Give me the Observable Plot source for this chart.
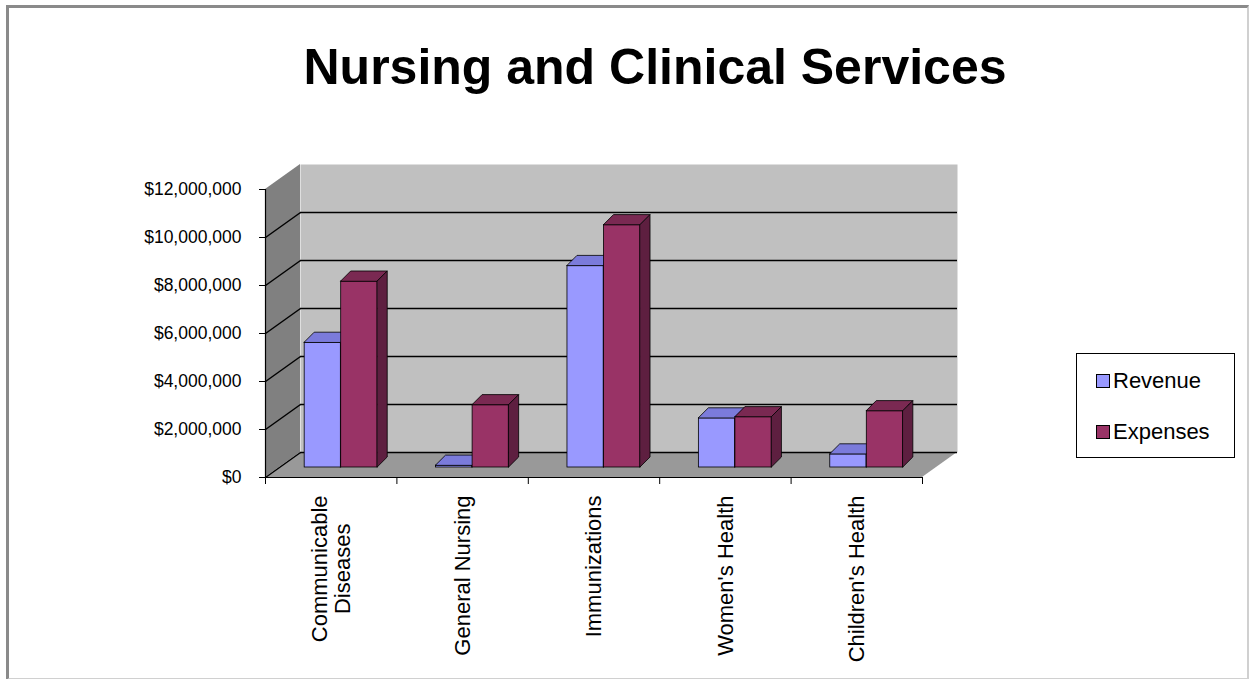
<!DOCTYPE html>
<html>
<head>
<meta charset="utf-8">
<script src="https://cdn.jsdelivr.net/npm/d3@7"></script>
<script src="https://cdn.jsdelivr.net/npm/@observablehq/plot@0.6"></script>
<style>
  html, body { margin: 0; padding: 0; background: #fff; }
  #wrap { position: relative; width: 1249px; height: 679px; overflow: hidden; font-family: "Liberation Sans", Arial, sans-serif; }
  #chart { position: absolute; left: 0; top: 0; }
  #frame { position: absolute; left: 6px; top: 5px; width: 1238px; height: 670px;
           border-top: 3px solid #8a8a8a; border-left: 3px solid #8a8a8a;
           border-right: 2px solid #d0d0d0; border-bottom: 2px solid #d0d0d0; pointer-events: none; }
  #title { position: absolute; left: 0; width: 1310px; top: 42px; text-align: center;
           font-size: 50px; line-height: 50px; font-weight: bold; color: #000; }
  #legend { position: absolute; left: 1076px; top: 353px; width: 157px; height: 103px;
            border: 1px solid #000; background: #fff; font-size: 22px; color: #000; }
  .item { position: absolute; left: 19px; display: flex; align-items: center; }
  .sw { width: 12px; height: 12px; border: 1px solid #000; margin-right: 3px; }
</style>
</head>
<body>
<div id="wrap">
  <div id="chart"></div>
  <div id="title">Nursing and Clinical Services</div>
  <div id="legend">
    <div class="item" style="top:14px"><div class="sw" id="sw0"></div><span id="lg0"></span></div>
    <div class="item" style="top:65px"><div class="sw" id="sw1"></div><span id="lg1"></span></div>
  </div>
  <div id="frame"></div>
</div>
<script>
// ---- data ----
const categories = ["Communicable\nDiseases", "General Nursing", "Immunizations", "Women's Health", "Children's Health"];
const seriesNames = ["Revenue", "Expenses"];
const revenue  = [5200000,  80000, 8400000, 2050000,  550000];
const expenses = [7750000, 2600000, 10100000, 2100000, 2350000];
const yTicks = [0, 2000000, 4000000, 6000000, 8000000, 10000000, 12000000];

// ---- styling ----
const colors = {
  Revenue:  {front: "#9999ff", top: "#7b7bdb", side: "#4b4bab"},
  Expenses: {front: "#993366", top: "#7a2952", side: "#5e1f40"}
};

const W = 1249, H = 679;
const ml = 265, mr = 327, mt = 189, mb = 202;
const ymax = 12000000;
const kx = (W - ml - mr) / categories.length;     // px per category unit
const ky = (H - mt - mb) / ymax;                  // px per dollar
const wallDx = 35, wallDy = 25;                   // wall depth in px
const barDx = 10, barDy = 10;                     // bar depth in px
const barOff = 10;                                // bar position inside depth
const wdx = wallDx / kx, wdy = wallDy / ky;
const bdx = barDx / kx, bdy = barDy / ky;
const bw = 0.278;
const labelFont = 22;

const bars = [];
categories.forEach((c, i) => {
  bars.push({id: "R" + i, s: "Revenue", x1: i + 0.5 - bw, x2: i + 0.5, v: revenue[i]});
  bars.push({id: "E" + i, s: "Expenses", x1: i + 0.5, x2: i + 0.5 + bw, v: expenses[i]});
});
const tops = bars.flatMap(b => [
  {id: b.id, s: b.s, y: b.v, x1: b.x1, x2: b.x2},
  {id: b.id, s: b.s, y: b.v + bdy, x1: b.x1 + bdx, x2: b.x2 + bdx}
]);
const sides = bars.flatMap(b => [
  {id: b.id, s: b.s, x: b.x2, y1: 0, y2: b.v},
  {id: b.id, s: b.s, x: b.x2 + bdx, y1: bdy, y2: b.v + bdy}
]);
const n = categories.length;
const sideWall = [{x: 0, y1: 0, y2: ymax}, {x: wdx, y1: wdy, y2: ymax + wdy}];
const floor = [{y: 0, x1: 0, x2: n}, {y: wdy, x1: wdx, x2: n + wdx}];
const gridVals = yTicks.filter(v => v < ymax);

function barMarks(s) {
  const st = {stroke: "#000", strokeWidth: 0.8, dx: barOff, dy: -barOff};
  return [
    Plot.rect(bars.filter(b => b.s === s), {x1: "x1", x2: "x2", y1: 0, y2: "v", fill: colors[s].front, ...st}),
    Plot.areaX(tops.filter(b => b.s === s), {y: "y", x1: "x1", x2: "x2", z: "id", fill: colors[s].top, ...st}),
    Plot.areaY(sides.filter(b => b.s === s), {x: "x", y1: "y1", y2: "y2", z: "id", fill: colors[s].side, ...st})
  ];
}

// category labels: centred on their longest line, hanging below the axis
const ctx = document.createElement("canvas").getContext("2d");
ctx.font = labelFont + "px 'Liberation Sans', Arial, sans-serif";
const labelMarks = categories.map((c, i) => {
  const w = Math.max(...c.split("\n").map(t => ctx.measureText(t).width));
  return Plot.text([c], {x: () => i + 0.5, y: () => 0, text: d => d, rotate: -90, textAnchor: "middle",
    dy: 18 + w / 2, fontSize: labelFont, lineHeight: 1.05, fill: "#000"});
});

const chart = Plot.plot({
  width: W, height: H,
  marginLeft: ml, marginRight: mr, marginTop: mt, marginBottom: mb,
  style: {fontFamily: "'Liberation Sans', Arial, sans-serif", color: "#000", background: "transparent", overflow: "visible"},
  x: {type: "linear", domain: [0, n], axis: null},
  y: {type: "linear", domain: [0, ymax], axis: null},
  marks: [
    Plot.frame({fill: "#c0c0c0", stroke: null, dx: wallDx, dy: -wallDy}),
    Plot.areaY(sideWall, {x: "x", y1: "y1", y2: "y2", fill: "#808080"}),
    Plot.areaX(floor, {y: "y", x1: "x1", x2: "x2", fill: "#999999"}),
    Plot.ruleY(gridVals, {x1: 0, x2: n, stroke: "#000", strokeWidth: 1.6, dx: wallDx, dy: -wallDy}),
    Plot.link(gridVals, {x1: 0, y1: d => d, x2: wdx, y2: d => d + wdy, stroke: "#000", strokeWidth: 1.5}),
    ...barMarks("Revenue"),
    ...barMarks("Expenses"),
    Plot.ruleX([0], {y1: 0, y2: ymax, stroke: "#000", strokeWidth: 1.2}),
    Plot.ruleY([0], {x1: 0, x2: n, stroke: "#000", strokeWidth: 1.2}),
    Plot.axisY({ticks: yTicks, tickFormat: d => "$" + d3.format(",")(d), tickSize: 6, tickPadding: 18, fontSize: 17.5, stroke: "#000"}),
    Plot.axisX({ticks: d3.range(0, n + 1), tickFormat: () => "", tickSize: 7, stroke: "#000"}),
    ...labelMarks
  ]
});
document.getElementById("chart").appendChild(chart);

seriesNames.forEach((s, i) => {
  document.getElementById("sw" + i).style.background = colors[s].front;
  document.getElementById("lg" + i).textContent = s;
});
</script>
</body>
</html>
